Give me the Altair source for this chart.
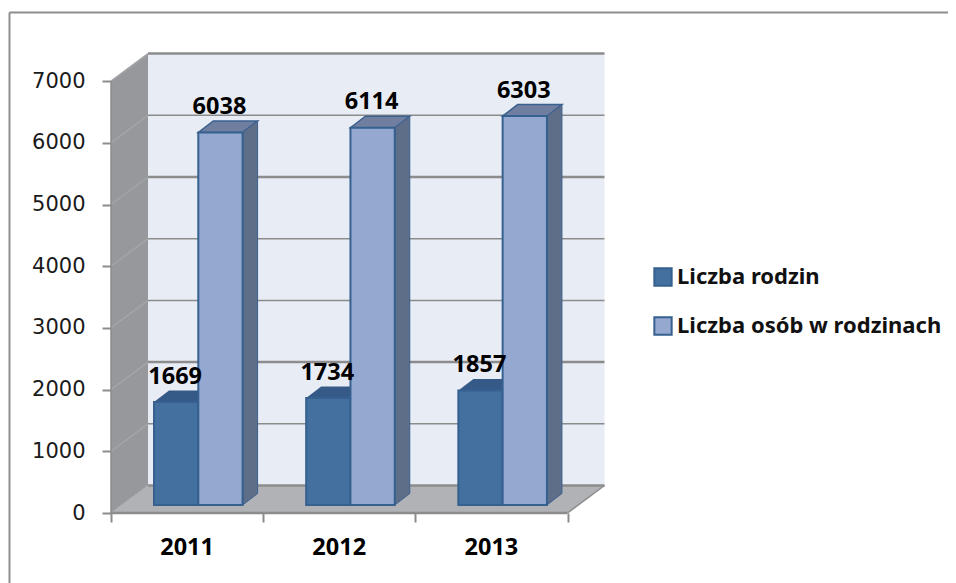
import altair as alt
import pandas as pd

years = ["2011", "2012", "2013"]
series_names = ["Liczba rodzin", "Liczba osób w rodzinach"]
rodziny = [1669, 1734, 1857]
osoby = [6038, 6114, 6303]
grid_values = [1000, 2000, 3000, 4000, 5000, 6000, 7000]
grid_widths = [1.5, 2.5, 1.5, 1.5, 2.5, 1.5, 2.5]

W, H = 940, 575
PX_X = 152.17          # px per category
PX_Y = 0.0617          # px per value unit
ux = lambda px: px / PX_X
uy = lambda px: px / PX_Y

x_dom = [-ux(103), ux(W - 103)]
y_dom = [-uy(70), uy(505)]
x_scale = alt.Scale(domain=x_dom, nice=False, zero=False)
y_scale = alt.Scale(domain=y_dom, nice=False, zero=False)

DX, DY = ux(37), uy(27.5)
X_END = 3.0
Y_TOP = 7000

axis_common = dict(domain=False, grid=False, tickColor="#8c8c8c", tickWidth=2, tickSize=9, title=None)
y_ax = alt.Axis(values=[0] + grid_values, offset=-103, labelFont="DejaVu Sans", labelFontSize=21,
                labelColor="#1a1a1a", labelPadding=17, format="d", **axis_common)
x_ax = alt.Axis(values=[0, 1, 2, 3], offset=-70, labels=False, **axis_common)

X = alt.X("x:Q", scale=x_scale, axis=x_ax)
Y = alt.Y("y:Q", scale=y_scale, axis=y_ax)
X2 = alt.X2("x2:Q")
Y2 = alt.Y2("y2:Q")


def area(rows, color, **kw):
    return alt.Chart(pd.DataFrame(rows, columns=["g", "x", "y", "y2"])).mark_area(
        color=color, **kw).encode(x=X, y=Y, y2=Y2, detail="g:N")


def para_top(g, x0, x1, yv, dx, dy):
    return [(g, x0, yv, yv), (g, x0 + dx, yv, yv + dy), (g, x1, yv, yv + dy), (g, x1 + dx, yv + dy, yv + dy)]


def para_side(g, x1, y0, yv, dx, dy):
    return [(g, x1, y0, yv), (g, x1 + dx, y0 + dy, yv + dy)]


# walls and floor
wall = alt.Chart(pd.DataFrame([{"x": DX, "x2": X_END + DX, "y": DY, "y2": Y_TOP + DY}])).mark_rect(
    color="#e8ecf5").encode(x=X, x2=X2, y=Y, y2=Y2)
side_wall = area(para_side("w", 0, 0, Y_TOP, DX, DY), "#97989c")
floor = area(para_top("f", 0, X_END, 0, DX, DY), "#b0b2b6")

grid_df = pd.DataFrame({"v": grid_values, "w": grid_widths})
grid_df["x"], grid_df["x2"], grid_df["y"] = DX, X_END + DX, grid_df["v"] + DY
grid = alt.Chart(grid_df).mark_rule(color="#8c8c8c").encode(
    x=X, x2=X2, y=Y, strokeWidth=alt.StrokeWidth("w:Q", scale=None))
back_floor = alt.Chart(pd.DataFrame([{"x": DX, "x2": X_END + DX, "y": DY}])).mark_rule(
    color="#8c8c8c", strokeWidth=2.5).encode(x=X, x2=X2, y=Y)

diag_rows = []
for v in grid_values + [0]:
    diag_rows += [{"g": v, "x": 0, "y": v}, {"g": v, "x": DX, "y": v + DY}]
diags = alt.Chart(pd.DataFrame(diag_rows)).mark_line(color="#a4a5a8", strokeWidth=1.5).encode(
    x=X, y=Y, detail="g:N")
floor_right = alt.Chart(pd.DataFrame([{"x": X_END, "y": 0}, {"x": X_END + DX, "y": DY}])).mark_line(
    color="#8c8c8c", strokeWidth=1.5).encode(x=X, y=Y)

# frame
frame_v = alt.Chart(pd.DataFrame([{"x": x_dom[0] + ux(1.5), "y": y_dom[0], "y2": y_dom[1] - uy(4.5)}])).mark_rule(
    color="#8e8e8e", strokeWidth=2).encode(x=X, y=Y, y2=Y2)
frame_h = alt.Chart(pd.DataFrame([{"x": x_dom[0] + ux(1.5), "x2": x_dom[1], "y": y_dom[1] - uy(4.5)}])).mark_rule(
    color="#8e8e8e", strokeWidth=2).encode(x=X, x2=X2, y=Y)

# bars
BAR_L, BAR_W = ux(43), ux(44.3)
BASE = uy(8)
BDX, BDY = ux(15), uy(11.5)
rows = []
for i, y in enumerate(years):
    x0 = i + BAR_L
    rows.append({"s": series_names[0], "year": y, "x": x0, "x2": x0 + BAR_W, "y": BASE, "y2": BASE + rodziny[i],
                 "val": rodziny[i]})
    rows.append({"s": series_names[1], "year": y, "x": x0 + BAR_W, "x2": x0 + 2 * BAR_W, "y": BASE,
                 "y2": BASE + osoby[i], "val": osoby[i]})
bars_df = pd.DataFrame(rows)

dark_tops, light_tops, light_sides = [], [], []
for r in rows:
    if r["s"] == series_names[0]:
        dark_tops += para_top(r["year"], r["x"], r["x2"], r["y2"], BDX, BDY)
    else:
        light_tops += para_top(r["year"], r["x"], r["x2"], r["y2"], BDX, BDY)
        light_sides += para_side(r["year"], r["x2"], r["y"], r["y2"], BDX, BDY)

dark_top = area(dark_tops, "#365a88")
light_top = area(light_tops, "#707f9f", stroke="#3a6090", strokeWidth=1.5)
light_side = area(light_sides, "#5e6e88", stroke="#3a6090", strokeWidth=1)

fronts = alt.Chart(bars_df).mark_rect(stroke="#35608f", strokeWidth=2).encode(
    x=X, x2=X2, y=Y, y2=Y2,
    color=alt.Color("s:N", scale=alt.Scale(domain=series_names, range=["#44709f", "#95a8cf"]),
                    legend=alt.Legend(
                        orient="none", legendX=644, legendY=258, title=None, padding=0,
                        symbolType="square", symbolSize=300, symbolStrokeWidth=2,
                        symbolStrokeColor="#35608f", symbolOpacity=1, rowPadding=23,
                        labelFont="Noto Sans", labelFontSize=22, labelFontWeight="bold",
                        labelColor="#111111", labelLimit=0, labelOffset=3)))

# data labels
lab_df = bars_df.copy()
lab_df["lx"] = (lab_df["x"] + lab_df["x2"]) / 2 - ux(1)
lab_df["ly"] = lab_df["y2"] + uy(25.5)
labels = alt.Chart(lab_df).mark_text(font="Noto Sans", fontSize=23.5, fontWeight="bold", color="#000000").encode(
    x=alt.X("lx:Q", scale=x_scale, axis=x_ax), y=alt.Y("ly:Q", scale=y_scale, axis=y_ax), text="val:Q")

# category labels
cat_df = pd.DataFrame({"x": [i + 0.5 for i in range(3)], "y": [-uy(35)] * 3, "t": years})
cat_labels = alt.Chart(cat_df).mark_text(font="Noto Sans", fontSize=23.5, fontWeight="bold", color="#000000").encode(
    x=X, y=Y, text="t:N")

line_y = alt.Chart(pd.DataFrame([{"x": 0, "y": 0, "y2": Y_TOP}])).mark_rule(
    color="#8c8c8c", strokeWidth=1.5).encode(x=X, y=Y, y2=Y2)
line_x = alt.Chart(pd.DataFrame([{"x": 0, "x2": X_END, "y": 0}])).mark_rule(
    color="#8c8c8c", strokeWidth=2.5).encode(x=X, x2=X2, y=Y)

chart = alt.layer(
    frame_v, frame_h, wall, grid, side_wall, diags, floor, back_floor, floor_right,
    line_y, line_x,
    dark_top, light_top, light_side, fronts, labels, cat_labels,
).properties(
    width=W, height=H, padding=0, autosize=alt.AutoSizeParams(type="none"),
).configure_view(stroke=None)

chart.save("out.html", embed_options={"renderer": "svg", "actions": False})
